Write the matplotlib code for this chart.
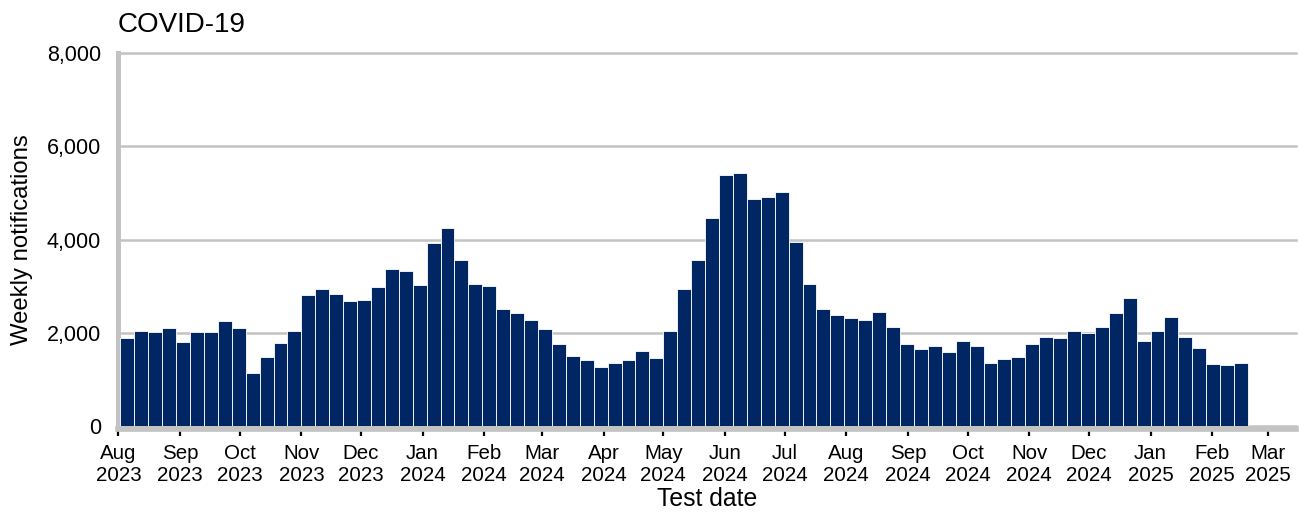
import numpy as np
import pandas as pd
import matplotlib
matplotlib.use("Agg")
import matplotlib.pyplot as plt
import matplotlib.dates as mdates
from matplotlib.ticker import FuncFormatter

plt.rcParams["font.family"] = ["Liberation Sans", "DejaVu Sans"]

# weekly counts, first week starting 2 Aug 2023
first_week = "2023-08-02"
weekly_notifications = [
    1900, 2050, 2030, 2115, 1815, 2030, 2030, 2265, 2115, 1150,
    1495, 1795, 2050, 2820, 2950, 2845, 2695, 2715, 2995, 3380,
    3335, 3035, 3935, 4255, 3570, 3055, 3015, 2520, 2435, 2285,
    2095, 1770, 1515, 1430, 1280, 1365, 1430, 1620, 1470, 2050,
    2950, 3570, 4470, 5395, 5435, 4880, 4920, 5030, 3955, 3055,
    2520, 2395, 2330, 2285, 2455, 2135, 1770, 1665, 1730, 1600,
    1835, 1730, 1365, 1450, 1495, 1770, 1920, 1900, 2050, 1995,
    2135, 2435, 2755, 1835, 2050, 2350, 1920, 1685, 1345, 1320,
    1365,
]
month_ticks = pd.date_range("2023-08-01", "2025-03-01", freq="MS")

weeks = pd.date_range(first_week, periods=len(weekly_notifications), freq="7D")

fig = plt.figure(figsize=(12.99, 5.15), dpi=100)
ax = fig.add_axes([0.0905, 0.172, 0.907, 0.725])

ax.bar(weeks, weekly_notifications, width=7, align="edge",
       color="#002664", edgecolor="white", linewidth=0.6, zorder=3)

ax.set_xlim(pd.Timestamp("2023-07-31 14:00"), pd.Timestamp("2025-03-15"))
ax.set_ylim(0, 8000)

ax.set_yticks([0, 2000, 4000, 6000, 8000])
ax.yaxis.set_major_formatter(FuncFormatter(lambda v, p: f"{v:,.0f}"))
ax.tick_params(axis="y", length=0, pad=12, labelsize=15.5)

ax.set_xticks(month_ticks)
ax.xaxis.set_major_formatter(mdates.DateFormatter("%b\n%Y"))
ax.tick_params(axis="x", length=5, width=1.6, color="black", pad=5.8, labelsize=14.8)
for lab in ax.get_xticklabels():
    lab.set_linespacing(0.95)

ax.grid(axis="y", color="#c3c3c3", linewidth=1.8, zorder=0)
for gl in ax.get_ygridlines():
    gl.set_clip_on(False)

for side in ["top", "right"]:
    ax.spines[side].set_visible(False)
ax.spines["left"].set_color("#c3c3c3")
ax.spines["left"].set_linewidth(3.6)
ax.spines["bottom"].set_color("#c3c3c3")
ax.spines["bottom"].set_linewidth(4.1)
ax.spines["bottom"].set_position(("outward", 2))

fig.text(118 / 1299, 1 - 31.5 / 515, "COVID-19", fontsize=20, ha="left", va="baseline")
fig.text(707 / 1299, 8.5 / 515, "Test date", fontsize=17.8, ha="center", va="baseline")
fig.text(22 / 1299, 0.5355, "Weekly notifications", fontsize=17.2, rotation=90,
         ha="center", va="center")

fig.savefig("out.png", dpi=100)
